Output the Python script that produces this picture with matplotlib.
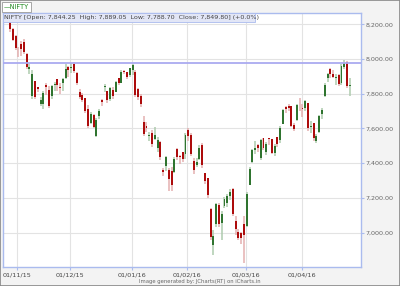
import matplotlib
matplotlib.use('Agg')
import matplotlib.pyplot as plt
from matplotlib.patches import Rectangle

# NIFTY daily data, 28/10/15 - 29/04/16
dates = [
    '28/10/15', '29/10/15', '30/10/15',
    '02/11/15', '03/11/15', '04/11/15', '05/11/15', '06/11/15', '09/11/15', '10/11/15',
    '11/11/15', '13/11/15', '16/11/15', '17/11/15', '18/11/15', '19/11/15', '20/11/15',
    '23/11/15', '24/11/15', '26/11/15', '27/11/15', '30/11/15',
    '01/12/15', '02/12/15', '03/12/15', '04/12/15', '07/12/15', '08/12/15', '09/12/15',
    '10/12/15', '11/12/15', '14/12/15', '15/12/15', '16/12/15', '17/12/15', '18/12/15',
    '21/12/15', '22/12/15', '23/12/15', '24/12/15', '28/12/15', '29/12/15', '30/12/15',
    '31/12/15',
    '01/01/16', '04/01/16', '05/01/16', '06/01/16', '07/01/16', '08/01/16', '11/01/16',
    '12/01/16', '13/01/16', '14/01/16', '15/01/16', '18/01/16', '19/01/16', '20/01/16',
    '21/01/16', '22/01/16', '25/01/16', '27/01/16', '28/01/16', '29/01/16',
    '01/02/16', '02/02/16', '03/02/16', '04/02/16', '05/02/16', '08/02/16', '09/02/16',
    '10/02/16', '11/02/16', '12/02/16', '15/02/16', '16/02/16', '17/02/16', '18/02/16',
    '19/02/16', '22/02/16', '23/02/16', '24/02/16', '25/02/16', '26/02/16', '29/02/16',
    '01/03/16', '02/03/16', '03/03/16', '04/03/16', '08/03/16', '09/03/16', '10/03/16',
    '11/03/16', '14/03/16', '15/03/16', '16/03/16', '17/03/16', '18/03/16', '21/03/16',
    '22/03/16', '23/03/16', '28/03/16', '29/03/16', '30/03/16', '31/03/16',
    '01/04/16', '04/04/16', '05/04/16', '06/04/16', '07/04/16', '08/04/16', '11/04/16',
    '12/04/16', '13/04/16', '18/04/16', '20/04/16', '21/04/16', '22/04/16', '25/04/16',
    '26/04/16', '27/04/16', '28/04/16', '29/04/16',
]
opens = [
    8230, 8172, 8130,
    8054, 8084, 8100, 8030, 7940, 7788, 7876,
    7838, 7740, 7742, 7850, 7823, 7788, 7849,
    7883, 7837, 7861, 7891, 7955,
    7950, 7970, 7920, 7812, 7795, 7774, 7713,
    7633, 7680, 7555, 7673, 7764, 7840, 7817,
    7770, 7822, 7810, 7888, 7863, 7930, 7924,
    7909,
    7938, 7924, 7828, 7788, 7639, 7612, 7559,
    7573, 7542, 7490, 7524, 7360, 7381, 7358,
    7355, 7352, 7481, 7438, 7467, 7452,
    7589, 7560, 7415, 7390, 7426, 7505, 7341,
    7317, 7138, 6931, 7052, 7160, 7056, 7156,
    7170, 7209, 7250, 7066, 7001, 6996, 7050,
    7039, 7276, 7407, 7478, 7505, 7431, 7547,
    7467, 7545, 7541, 7461, 7549, 7532, 7628,
    7726, 7728, 7728, 7620, 7650, 7741,
    7719, 7720, 7746, 7606, 7631, 7525, 7579,
    7686, 7789, 7888, 7942, 7912, 7888, 7908,
    7860, 7953, 7985, 7844.25,
]
highs = [
    8236, 8180, 8140,
    8072, 8101, 8116, 8035, 7969, 7937, 7876,
    7838, 7780, 7818, 7860, 7845, 7849, 7868,
    7883, 7861, 7888, 7969, 7958,
    7979, 7980, 7923, 7829, 7802, 7775, 7735,
    7693, 7686, 7660, 7714, 7770, 7858, 7818,
    7840, 7836, 7875, 7888, 7937, 7937, 7924,
    7948,
    7972, 7937, 7831, 7801, 7674, 7635, 7577,
    7589, 7611, 7550, 7530, 7373, 7440, 7373,
    7380, 7433, 7489, 7448, 7467, 7575,
    7600, 7574, 7427, 7432, 7502, 7516, 7342,
    7317, 7141, 7016, 7171, 7170, 7122, 7205,
    7225, 7250, 7255, 7093, 7023, 7001, 7094,
    7236, 7380, 7483, 7527, 7509, 7541, 7547,
    7520, 7546, 7542, 7508, 7550, 7613, 7712,
    7728, 7741, 7729, 7631, 7742, 7777,
    7740, 7764, 7746, 7642, 7633, 7566, 7680,
    7717, 7863, 7922, 7950, 7934, 7911, 7914,
    7969, 7992, 7991, 7889.05,
]
lows = [
    8158, 8104, 8052,
    8010, 8020, 8027, 7940, 7915, 7772, 7772,
    7810, 7730, 7714, 7793, 7719, 7772, 7817,
    7818, 7800, 7816, 7883, 7898,
    7918, 7920, 7850, 7772, 7755, 7691, 7603,
    7625, 7602, 7551, 7656, 7731, 7810, 7746,
    7758, 7771, 7810, 7850, 7863, 7914, 7883,
    7899,
    7909, 7781, 7763, 7721, 7555, 7581, 7526,
    7494, 7532, 7467, 7420, 7325, 7357, 7241,
    7242, 7341, 7419, 7396, 7406, 7426,
    7525, 7443, 7339, 7376, 7418, 7374, 7282,
    7200, 6959, 6870, 7033, 7033, 6960, 7143,
    7145, 7188, 7095, 6988, 6955, 6933, 6826,
    7035, 7276, 7400, 7451, 7467, 7420, 7474,
    7448, 7503, 7453, 7442, 7491, 7518, 7628,
    7690, 7701, 7609, 7587, 7643, 7702,
    7666, 7700, 7587, 7572, 7530, 7516, 7576,
    7653, 7782, 7870, 7893, 7890, 7852, 7843,
    7852, 7940, 7835, 7788.70,
]
closes = [
    8171, 8111, 8065,
    8050, 8060, 8040, 7955, 7954, 7915, 7783,
    7825, 7762, 7807, 7837, 7731, 7842, 7856,
    7849, 7831, 7883, 7942, 7935,
    7954, 7931, 7864, 7781, 7765, 7701, 7612,
    7683, 7610, 7650, 7700, 7750, 7844, 7762,
    7834, 7786, 7866, 7861, 7925, 7928, 7896,
    7946,
    7963, 7791, 7784, 7741, 7568, 7601, 7563,
    7510, 7562, 7536, 7437, 7351, 7435, 7309,
    7276, 7422, 7436, 7437, 7424, 7563,
    7555, 7455, 7361, 7404, 7489, 7387, 7298,
    7215, 6976, 6981, 7162, 7048, 7108, 7191,
    7211, 7234, 7109, 7018, 6971, 6970, 6987,
    7222, 7368, 7475, 7485, 7485, 7531, 7486,
    7510, 7538, 7460, 7498, 7512, 7604, 7704,
    7714, 7716, 7615, 7597, 7735, 7738,
    7713, 7758, 7603, 7614, 7546, 7555, 7671,
    7708, 7850, 7914, 7912, 7899, 7899, 7855,
    7962, 7979, 7847, 7849.80,
]
level_line = 7979
y_ticks = [7000, 7200, 7400, 7600, 7800, 8000, 8200]

up_body, up_wick = '#2f742f', '#aecbae'
dn_body, dn_wick = '#ad0c0c', '#e4b0b0'

fig = plt.figure(figsize=(4, 2.86), dpi=100, facecolor='#f3f3f3')
ax = fig.add_axes([3/400, 19/286, 358/400, 254/286])
ax.set_facecolor('white')

x = list(range(len(dates)))
for i in x:
    o, h, l, c = opens[i], highs[i], lows[i], closes[i]
    up = c >= o
    ax.vlines(i, l, h, color=up_wick if up else dn_wick, linewidth=1.1, zorder=2)
    ax.bar(i, max(abs(c - o), 2), bottom=min(o, c), width=0.7,
           color=up_body if up else dn_body, linewidth=0, zorder=3)

ax.axhline(level_line, color='#aaaaf0', linewidth=1.3, zorder=4)

# month ticks at first trading day of each month
tick_pos, tick_lab = [], []
prev = None
for i, d in enumerate(dates):
    m = d[3:]
    if prev is not None and m != prev:
        tick_pos.append(i - 0.3)
        tick_lab.append('01/' + m)
    prev = m

ax.set_xlim(-2.5, 126)
ax.set_ylim(6802, 8265)
ax.set_xticks(tick_pos)
ax.set_xticklabels(tick_lab, fontsize=4.6, color='#444444')
ax.set_yticks(y_ticks)
ax.set_yticklabels(['{:,.2f}'.format(v) for v in y_ticks], fontsize=4.6, color='#666666')
ax.yaxis.tick_right()
ax.tick_params(axis='y', length=2, width=0.8, color='#aabbee', pad=1)
ax.tick_params(axis='x', length=2, width=0.8, color='#aabbee', pad=2)
ax.grid(True, color='#e3e3e3', linewidth=0.8, zorder=0)
ax.set_axisbelow(True)
for s in ax.spines.values():
    s.set_color('#aabbee')
    s.set_linewidth(1.0)

# info band at top of plot
ax.add_patch(Rectangle((0, 0.965), 0.705, 0.035, transform=ax.transAxes,
                       facecolor='#e2e6f6', edgecolor='#aabbee', linewidth=0.6, zorder=5))
ax.text(0.003, 0.982, 'NIFTY [Open: 7,844.25  High: 7,889.05  Low: 7,788.70  Close: 7,849.80] (+0.0%)',
        transform=ax.transAxes, fontsize=4.6, color='#444444', va='center', ha='left', zorder=6)

# legend box
fig.patches.append(Rectangle((2/400, 274/286), 29/400, 10/286, transform=fig.transFigure,
                             facecolor='white', edgecolor='#999999', linewidth=0.6))
fig.text(4/400, 279/286, '\u2014NIFTY', fontsize=4.8, color='#1f8a1f', va='center', ha='left')

fig.text(0.5, 4/286, 'Image generated by: JCharts(RT) on iCharts.in', fontsize=3.8,
         color='#666666', ha='center', va='center')
fig.patches.append(Rectangle((0, 0), 1, 1, transform=fig.transFigure, fill=False,
                             edgecolor='#888888', linewidth=1.2))

fig.savefig('out.png', dpi=100, facecolor=fig.get_facecolor())
